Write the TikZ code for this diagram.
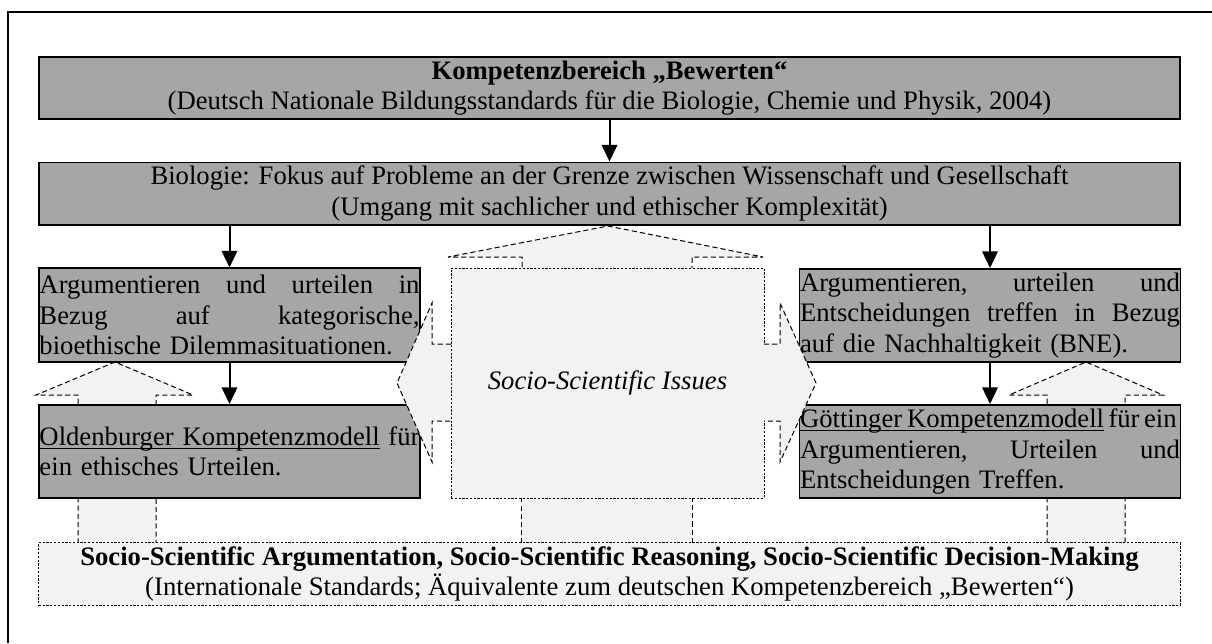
\documentclass[tikz,border=0pt]{standalone}
\usepackage{fontspec}
\setmainfont{Liberation Serif}
\usepackage{xcolor}
\usetikzlibrary{arrows.meta}
\definecolor{boxgray}{HTML}{A6A6A6}
\definecolor{paleissue}{HTML}{F2F2F2}
\newsavebox{\ulwordbox}
\newcommand{\ulword}[1]{\sbox{\ulwordbox}{#1}\rlap{\rule[-1.5pt]{\wd\ulwordbox}{0.6pt}}\usebox{\ulwordbox}}

\begin{document}
\begin{tikzpicture}[x=0.45pt,y=-0.45pt,>={Triangle[width=7pt,length=7.5pt]},
level/.style={draw,line width=0.8pt,fill=boxgray,align=center,minimum width=513.5pt,minimum height=28pt,inner sep=0.5pt,font=\fontsize{12}{13.6}\selectfont},
branch/.style={draw,line width=0.8pt,fill=boxgray,align=left,text width=171pt,inner xsep=0.25pt,inner ysep=0.5pt,minimum height=42pt,font=\fontsize{12}{13.6}\selectfont},
issue/.style={draw,line width=0.45pt,dash pattern=on 1pt off 0.7pt,fill=paleissue,align=center,font=\fontsize{12}{13.6}\selectfont},
flow/.style={->,line width=0.9pt},
blockarrow/.style={draw,line width=0.45pt,dash pattern=on 2.3pt off 1.4pt,fill=paleissue}]
\useasboundingbox (0,0) rectangle (1212,643);
\draw[line width=0.8pt] (1212,12) -- (8,12) -- (8,643);
\draw[blockarrow] (78,560) -- (78,395) -- (36,395) -- (115,362) -- (193,395) -- (156,395) -- (156,560);
\draw[blockarrow] (1047,560) -- (1047,395) -- (1009,395) -- (1086,362) -- (1163,395) -- (1125,395) -- (1125,560);
\draw[blockarrow] (522,300) -- (522,257) -- (448,257) -- (608,226) -- (763,257) -- (692,257) -- (692,300);
\draw[blockarrow] (521,560) -- (521,470) -- (692,470) -- (692,560);
\node[level] (kb) at (609.5,88) {\textbf{Kompetenzbereich „Bewerten“}\\(Deutsch Nationale Bildungsstandards für die Biologie, Chemie und Physik, 2004)};
\node[level] (bio) at (609.5,193.5) {Biologie: Fokus auf Probleme an der Grenze zwischen Wissenschaft und Gesellschaft\\(Umgang mit sachlicher und ethischer Komplexität)};
\node[branch] (dil) at (229.5,315) {Argumentieren \hfill und \hfill urteilen \hfill in\\Bezug \hfill auf \hfill kategorische,\\bioethische Dilemmasituationen.};
\node[branch] (old) at (229.5,451.5) {\ulword{Oldenburger Kompetenzmodell}\hfill für\\ein ethisches Urteilen.};
\node[branch] (bne) at (990,315.5) {Argumentieren, \hfill urteilen \hfill und\\Entscheidungen \hfill treffen \hfill in \hfill Bezug\\auf die Nachhaltigkeit (BNE).};
\node[branch] (goe) at (990,451.5) {\mbox{\ulword{Göttinger\hspace{2.2pt}Kompetenzmodell}\hspace{2pt}für\hspace{2pt}ein}\\Argumentieren, \hfill Urteilen \hfill und\\Entscheidungen Treffen.};
\node[issue,minimum width=140.85pt,minimum height=103.5pt] (ssi) at (607.5,383) {\textit{Socio-Scientific Issues}};
\node[issue,minimum width=513.5pt,minimum height=28pt,inner sep=0.5pt] (ssa) at (609.5,574) {\textbf{Socio-Scientific Argumentation, Socio-Scientific Reasoning, Socio-Scientific Decision-Making}\\(Internationale Standards; Äquivalente zum deutschen Kompetenzbereich „Bewerten“)};
\draw[blockarrow] (451,344) -- (432,344) -- (432,303) -- (397,383) -- (432,462) -- (432,421) -- (451,421);
\draw[blockarrow] (764,344) -- (780,344) -- (780,303) -- (816,383) -- (780,462) -- (780,421) -- (764,421);
\draw[flow] (kb) -- (bio);
\draw[flow] (bio.south -| dil) -- (dil);
\draw[flow] (dil) -- (old);
\draw[flow] (bio.south -| bne) -- (bne);
\draw[flow] (bne) -- (goe);
\end{tikzpicture}
\end{document}
